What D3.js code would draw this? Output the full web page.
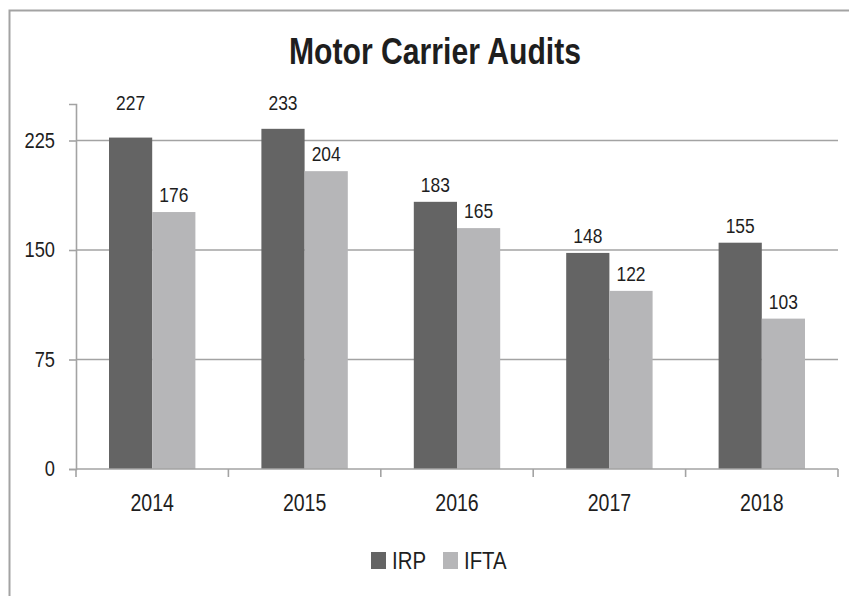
<!DOCTYPE html>
<html lang="en">
<head>
<meta charset="UTF-8">
<title>Motor Carrier Audits</title>
<script src="https://d3js.org/d3.v7.min.js"></script>
<style>
  body { margin: 0; background: #fff; }
  text { font-family: "Liberation Sans", Arial, sans-serif; fill: #1e1e1e; }
</style>
</head>
<body>
<script>
  // data
  var years = ['2014', '2015', '2016', '2017', '2018'];
  var irp   = [227, 233, 183, 148, 155];
  var ifta  = [176, 204, 165, 122, 103];
  var seriesNames = ['IRP', 'IFTA'];
  var yTicks = [0, 75, 150, 225];

  var w = 849, h = 596;
  var plotLeft = 76, plotRight = 838, plotTop = 104, plotBottom = 469;
  var colors = { IRP: '#646464', IFTA: '#b6b6b8' };
  var squeeze = 0.85; // the source font is a narrow one

  var svg = d3.select('body').append('svg')
      .attr('width', w)
      .attr('height', h);

  // put a text at (x, y) and squeeze it horizontally
  function narrow(sel, fx, fy) {
    sel.attr('transform', (d, i) => 'translate(' + fx(d, i) + ',' + fy(d, i) + ') scale(' + squeeze + ',1)');
  }

  // frame
  svg.append('rect')
      .attr('x', 9.5).attr('y', 10.5)
      .attr('width', 900).attr('height', 700)
      .attr('fill', 'none')
      .attr('stroke', '#a3a3a3')
      .attr('stroke-width', 2);

  // title
  svg.append('text')
      .attr('x', 435)
      .attr('y', 64)
      .attr('text-anchor', 'middle')
      .attr('textLength', 292)
      .attr('lengthAdjust', 'spacingAndGlyphs')
      .style('font-size', '36px')
      .style('font-weight', 'bold')
      .text('Motor Carrier Audits');

  var x0 = d3.scaleBand().domain(years).range([plotLeft, plotRight]).paddingInner(0).paddingOuter(0);
  var x1 = d3.scaleBand().domain(seriesNames).range([33, x0.bandwidth() - 33]);
  var y = d3.scaleLinear().domain([0, 250]).range([plotBottom, plotTop]);

  // gridlines
  svg.append('g').selectAll('line')
      .data(yTicks.filter(d => d > 0))
      .enter().append('line')
      .attr('x1', plotLeft).attr('x2', plotRight)
      .attr('y1', d => y(d)).attr('y2', d => y(d))
      .attr('stroke', '#a3a3a3')
      .attr('stroke-width', 1.6);

  // y axis
  var yAxis = svg.append('g')
      .attr('transform', 'translate(' + plotLeft + ',0)')
      .call(d3.axisLeft(y).tickValues(yTicks).tickSize(7).tickPadding(14));
  yAxis.select('.domain').attr('stroke', '#a3a3a3').attr('stroke-width', 1.6);
  yAxis.selectAll('.tick line').attr('stroke', '#a3a3a3').attr('stroke-width', 1.6);
  yAxis.selectAll('.tick text')
      .attr('font-family', null)
      .attr('fill', '#1e1e1e')
      .attr('x', -21 / squeeze)
      .attr('transform', 'scale(' + squeeze + ',1)')
      .style('font-size', '21.5px');

  // bars
  var rows = years.map((yr, i) => ({ year: yr, values: [{ key: 'IRP', v: irp[i] }, { key: 'IFTA', v: ifta[i] }] }));

  var groups = svg.append('g').selectAll('g')
      .data(rows)
      .enter().append('g')
      .attr('transform', d => 'translate(' + x0(d.year) + ',0)');

  groups.selectAll('rect')
      .data(d => d.values)
      .enter().append('rect')
      .attr('x', d => x1(d.key))
      .attr('y', d => y(d.v))
      .attr('width', x1.bandwidth())
      .attr('height', d => y(0) - y(d.v))
      .attr('fill', d => colors[d.key]);

  // labels that would run into the top gridline sit at the top of the plot
  var topLine = y(yTicks[yTicks.length - 1]);
  groups.selectAll('text.val')
      .data(d => d.values)
      .enter().append('text')
      .attr('class', 'val')
      .attr('text-anchor', 'middle')
      .style('font-size', '20.5px')
      .text(d => d.v)
      .call(narrow, d => x1(d.key) + x1.bandwidth() / 2,
            d => (y(d.v) - 10 < topLine ? plotTop + 6 : y(d.v) - 10));

  // x axis
  var boundaries = years.map(d => x0(d)).concat([plotRight]);
  svg.append('line')
      .attr('x1', plotLeft).attr('x2', plotRight)
      .attr('y1', plotBottom).attr('y2', plotBottom)
      .attr('stroke', '#a3a3a3').attr('stroke-width', 1.6);
  svg.append('g').selectAll('line')
      .data(boundaries)
      .enter().append('line')
      .attr('x1', d => d).attr('x2', d => d)
      .attr('y1', plotBottom).attr('y2', plotBottom + 8)
      .attr('stroke', '#a3a3a3').attr('stroke-width', 1.6);
  svg.append('g').selectAll('text')
      .data(years)
      .enter().append('text')
      .attr('text-anchor', 'middle')
      .style('font-size', '23px')
      .text(d => d)
      .call(narrow, d => x0(d) + x0.bandwidth() / 2, () => 511);

  // legend
  var legendX = [371, 443];
  var legend = svg.append('g').selectAll('g')
      .data(seriesNames)
      .enter().append('g')
      .attr('transform', (d, i) => 'translate(' + legendX[i] + ',552)');
  legend.append('rect')
      .attr('width', 15).attr('height', 17)
      .attr('fill', d => colors[d]);
  legend.append('text')
      .style('font-size', '24px')
      .text(d => d)
      .call(narrow, () => 21, () => 17);
</script>
</body>
</html>
